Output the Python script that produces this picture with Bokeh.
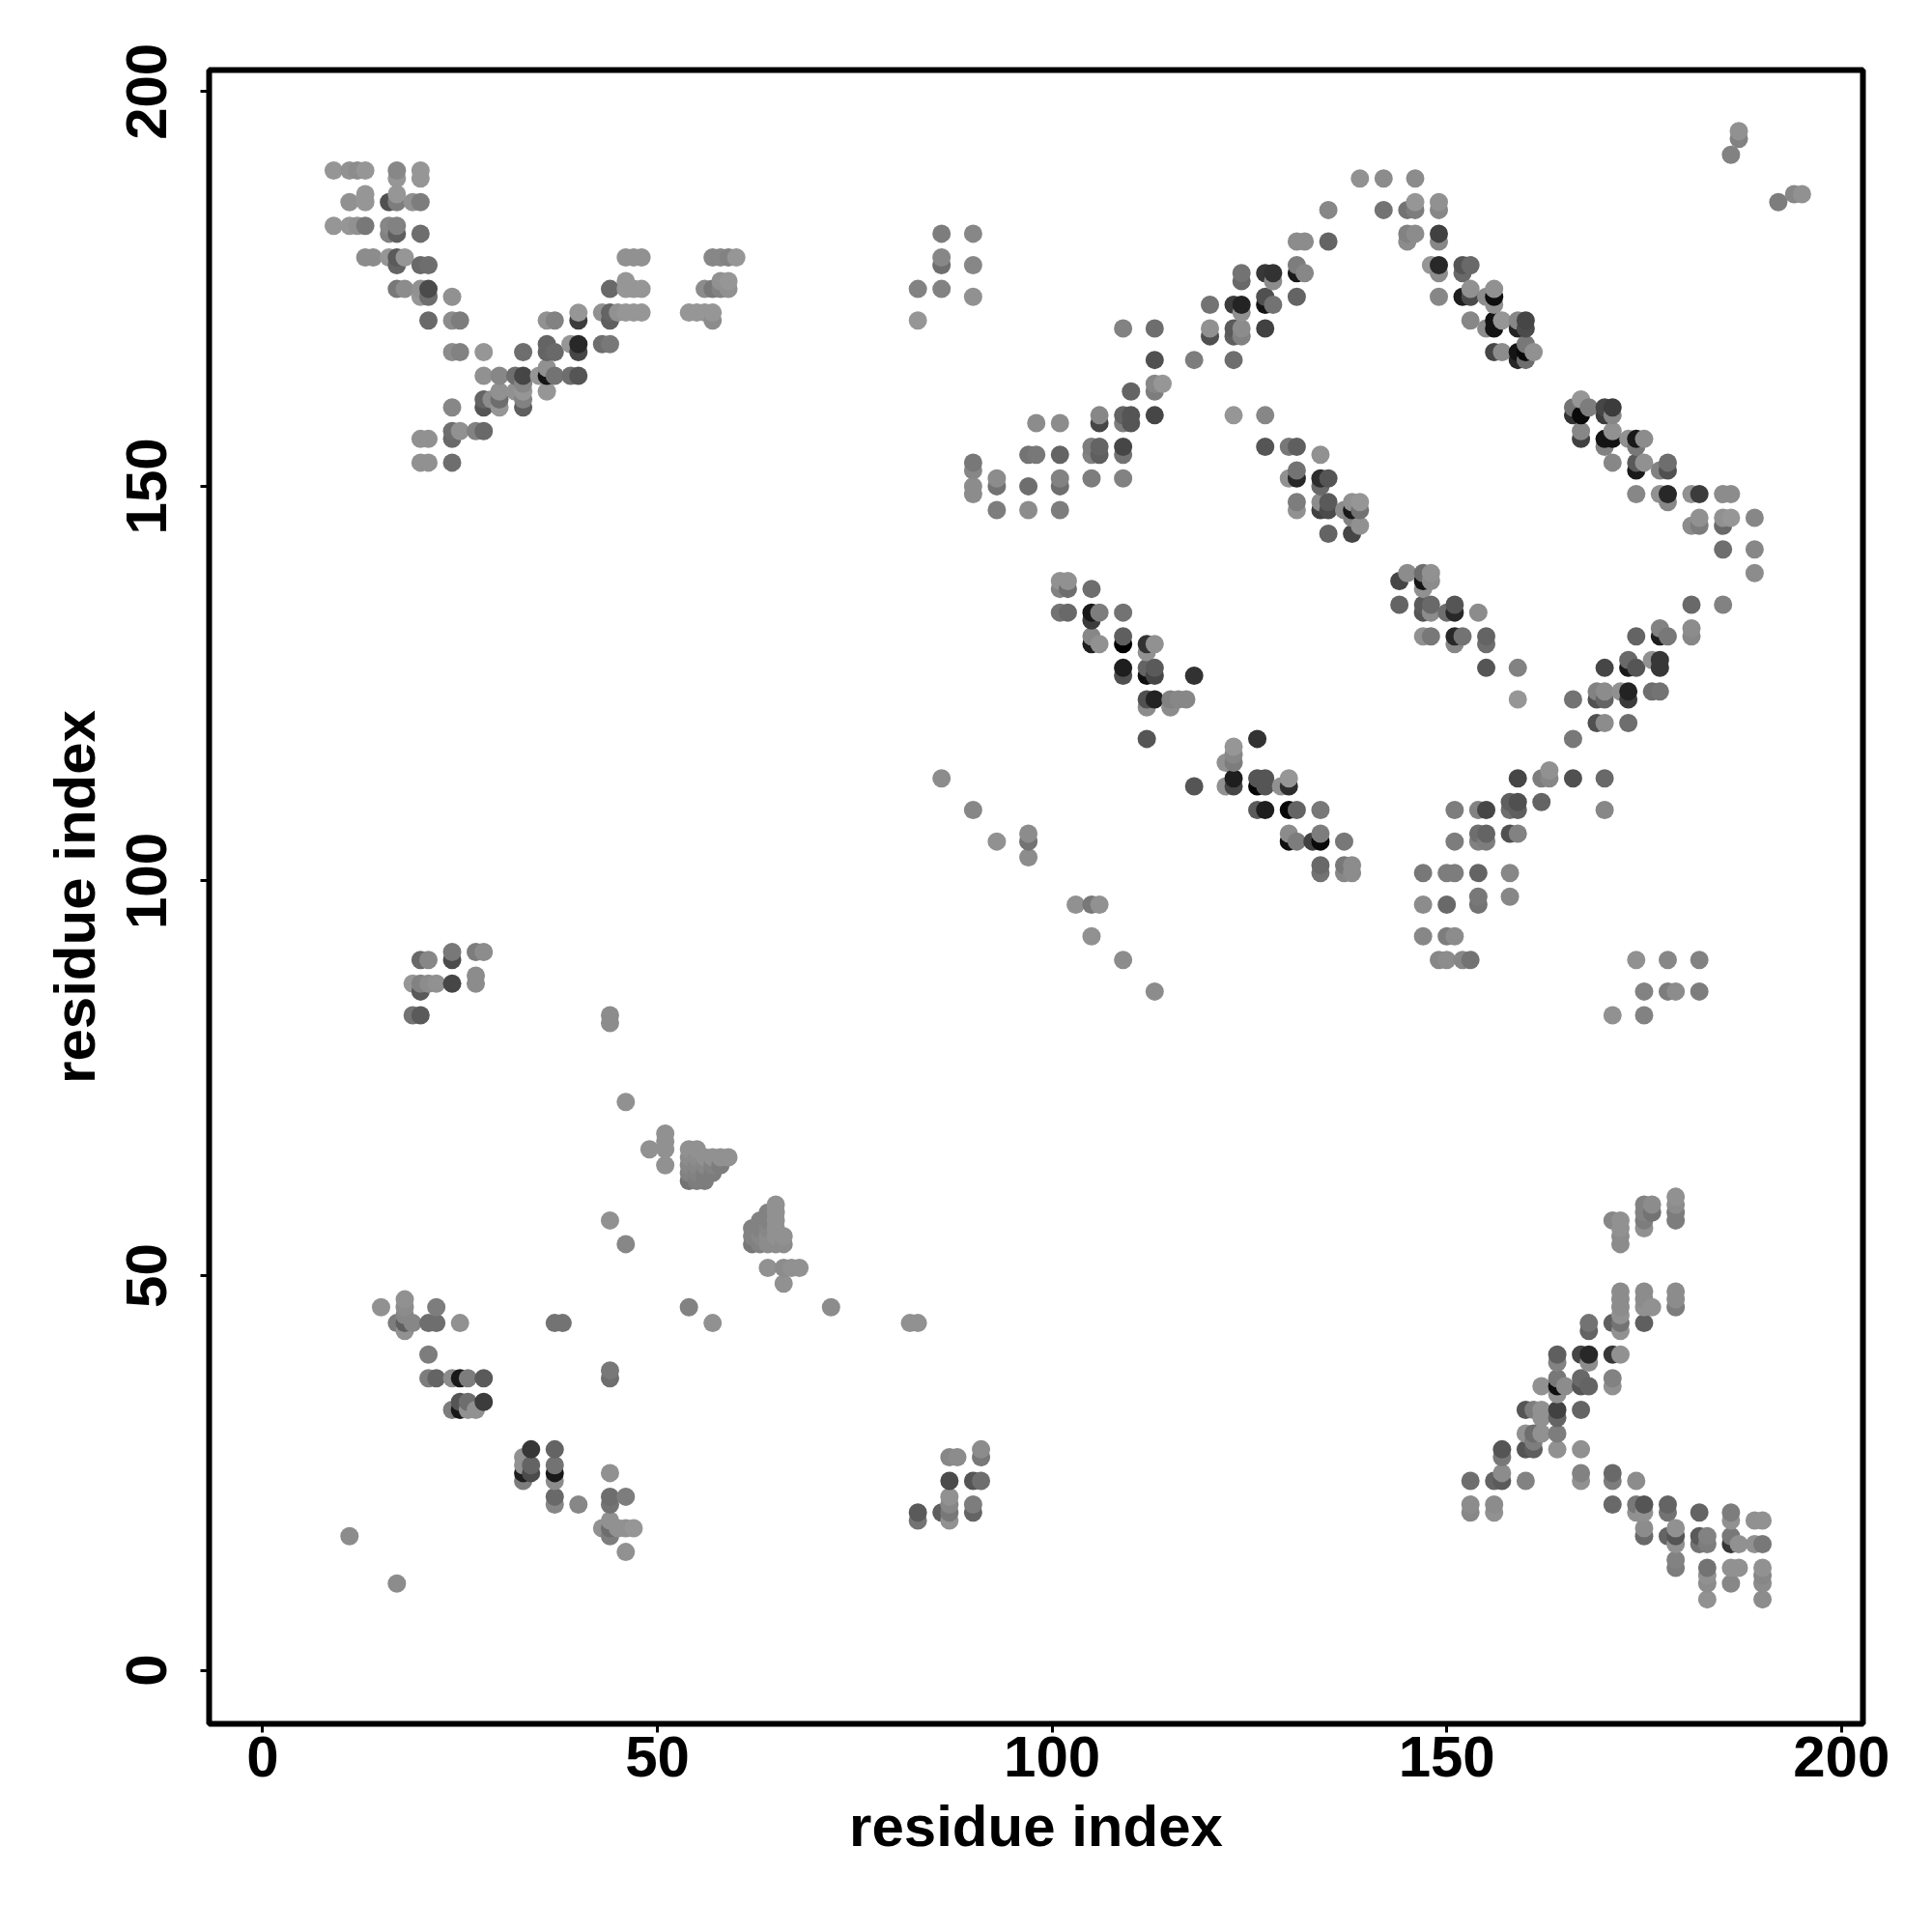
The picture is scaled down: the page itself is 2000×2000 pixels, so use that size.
import numpy as np
from bokeh.embed import file_html
from bokeh.models import ColumnDataSource, FixedTicker, Range1d
from bokeh.plotting import figure
from bokeh.resources import INLINE

# each point: (residue x, residue y, grey level 0-255)
upper_left = [
    (9,190,150),(11,190,145),(12,190,140),(13,190,150),(17,190,135),(20,190,150),(17,189,150),(20,189,150),
    (13,187,150),(17,187,150),(16,186,80),(11,186,145),(13,186,150),(17,186,125),(19,186,145),(20,186,125),
    (9,183,150),(11,183,150),(12,183,145),(13,183,120),(16,183,135),(17,183,130),(16,182,130),(17,182,95),(20,182,110),
    (13,179,140),(14,179,140),(16,179,150),(17,179,90),(18,179,150),(17,178,100),(20,178,105),(21,178,110),
    (17,175,120),(18,175,140),(20,175,145),(21,175,75),(20,174,150),(21,174,110),(24,174,145),
    (21,171,105),(24,171,140),(25,171,125),(24,167,140),(25,167,130),(28,167,150),(33,167,110),
    (28,164,145),(30,164,135),(32,164,110),(33,164,70),(35,164,150),(36,164,20),(37,164,115),(39,164,110),(40,164,85),
    (36,165,145),(36,167,100),(37,167,105),(36,168,100),(39,168,150),(40,168,40),(40,167,70),(43,168,110),(44,168,120),
    (36,171,145),(37,171,130),(40,171,60),(40,172,150),(43,172,145),(44,172,100),(45,172,145),(46,172,150),(47,172,150),(48,172,150),
    (44,171,95),(44,175,105),(46,175,150),(47,175,150),(48,175,150),(46,176,150),(46,179,145),(47,179,145),(48,179,145),
    (57,179,135),(58,179,135),(59,179,130),(60,179,150),(56,175,140),(57,175,120),(58,175,130),(59,175,145),(58,176,145),(59,176,150),
    (54,172,150),(55,172,150),(56,172,150),(57,172,150),(57,171,140),
    (30,162,145),(32,162,145),(33,162,150),(36,162,150),(33,163,135),(28,161,100),(29,161,140),(30,161,110),(33,161,130),
    (28,160,85),(30,160,150),(33,160,95),(24,160,135),(24,157,110),(25,157,145),(27,157,130),(28,157,105),
    (24,156,105),(20,156,145),(21,156,145),(20,153,145),(21,153,145),(24,153,110),
]
upper_mid = [
    (86,182,125),(90,182,135),(86,179,135),(86,178,110),(90,178,135),(83,175,130),(86,175,130),(90,174,145),(83,171,150),
    (109,170,130),(113,170,110),(120,173,115),(123,173,60),(124,173,35),(124,172,145),(124,177,115),(124,176,105),
    (127,177,55),(128,177,50),(128,176,140),(127,174,80),(127,173,20),(128,173,115),(131,178,125),(132,177,135),(131,177,25),
    (131,174,100),(131,181,140),(132,181,140),(135,181,100),(135,185,135),(120,170,145),(120,169,80),(123,170,90),(123,169,95),
    (124,170,140),(124,169,130),(127,170,65),(113,166,80),(118,166,125),(123,166,110),(113,163,135),(113,162,125),(114,163,150),
    (110,162,100),(106,159,135),(106,158,70),(109,159,100),(109,158,125),(110,159,85),(110,158,85),(113,159,70),(98,158,140),(101,158,140),
    (97,154,115),(98,154,120),(101,154,100),(105,155,125),(105,154,130),(106,155,100),(106,154,95),(109,155,70),(109,154,115),
    (90,153,120),(90,152,135),(90,150,140),(90,149,140),(93,151,140),(93,150,115),(97,150,110),(101,151,130),(101,150,110),
    (105,151,125),(109,151,130),(93,147,125),(97,147,140),(101,147,125),
]
inner_upper = [
    (123,159,150),(127,159,135),(127,155,85),(130,155,120),(131,155,95),(134,154,145),(130,151,145),(131,152,115),(131,151,40),
    (134,151,45),(135,151,85),(134,150,105),(131,148,125),(131,147,145),(134,148,140),(135,148,90),(134,147,65),(135,147,75),
    (137,147,140),(138,148,145),(138,147,25),(138,146,130),(139,148,150),(139,147,115),(139,145,145),(135,144,100),(138,144,70),
]
upper_right = [
    (139,189,145),(142,189,140),(146,189,140),(142,185,115),(145,185,115),(146,186,150),(146,185,125),(149,186,145),(149,185,135),
    (145,182,130),(146,182,140),(145,181,140),(149,182,65),(149,181,135),(148,178,150),(149,178,40),(149,177,140),
    (152,178,85),(153,178,105),(152,177,105),(149,174,135),(152,174,30),(153,175,145),(153,174,75),(155,174,140),(156,175,145),
    (156,174,15),(156,173,145),(153,171,135),(155,170,140),(156,171,20),(156,170,20),(157,171,150),(159,171,135),(160,171,70),
    (159,170,35),(160,170,75),(156,167,70),(157,167,140),(159,167,20),(159,166,40),(160,168,120),(160,166,110),(160,167,10),(161,167,145),
    (187,195,145),(187,194,130),(186,192,130),(192,186,125),(194,187,135),(195,187,145),
    (166,160,115),(167,161,150),(166,159,50),(167,159,10),(168,160,125),(170,160,70),(171,160,60),(170,159,60),(171,159,135),
    (167,157,135),(167,156,65),(170,156,20),(171,157,145),(171,156,20),(170,155,130),(173,156,145),(174,156,25),(175,156,140),(174,155,120),
    (171,153,135),(174,153,90),(174,152,25),(175,153,145),(177,152,130),(178,153,110),(178,152,80),(174,149,135),(177,149,145),(178,149,40),(178,148,135),
    (181,149,145),(182,149,60),(185,149,140),(186,149,140),(181,145,140),(182,146,145),(182,145,125),(185,146,145),(185,145,105),(186,146,150),
    (189,146,135),(185,142,110),(189,142,135),(189,139,140),
]
middle_right = [
    (144,138,70),(145,139,140),(147,139,110),(148,139,145),(147,138,20),(148,138,140),(147,137,145),
    (144,135,100),(147,135,90),(148,135,105),(147,134,85),(148,134,140),(150,134,110),(151,135,85),(151,134,40),(154,134,140),
    (147,131,145),(148,131,120),(151,131,40),(152,131,115),(151,130,135),(155,131,100),(155,130,110),(155,127,85),(159,127,130),(159,123,150),
    (166,123,115),(166,118,120),(159,113,70),(162,113,125),(163,114,145),(163,113,135),(166,113,80),(170,113,105),(170,109,135),(162,110,100),
    (158,110,95),(159,110,80),(158,109,110),(159,109,95),(151,109,125),(154,109,130),(155,109,70),(151,105,125),(154,106,110),(155,106,100),
    (154,105,130),(155,105,125),(158,106,80),(159,106,130),(147,101,120),(150,101,125),(151,101,125),(154,101,100),(158,101,135),
    (147,97,140),(150,97,105),(154,98,120),(154,97,115),(158,98,135),(147,93,135),(150,93,125),(151,93,140),
    (149,90,135),(150,90,140),(152,90,135),(153,90,115),(174,90,145),(178,90,135),(182,90,130),(175,86,130),(178,86,125),(179,86,140),(182,86,125),
    (171,83,145),(175,83,130),(181,135,105),(185,135,130),(181,132,140),(181,131,135),(174,131,100),(177,132,130),(177,131,30),(178,131,120),
    (173,128,105),(176,128,145),(177,128,55),(177,127,55),(170,127,70),(173,127,25),(174,127,85),(169,124,130),(170,124,140),(169,123,80),(170,123,100),
    (172,124,145),(173,124,35),(173,123,60),(176,124,110),(177,124,115),(169,120,80),(170,120,140),(173,120,110),
]
centre = [
    (101,138,145),(102,138,145),(101,137,130),(102,137,110),(105,137,110),(101,134,115),(102,134,105),(105,134,25),(106,134,125),(105,133,60),(109,134,115),
    (105,131,135),(106,130,145),(105,130,30),(109,131,95),(109,130,0),(112,130,50),(113,130,145),(112,129,145),(109,127,30),(109,126,80),
    (112,127,100),(113,127,90),(112,126,15),(113,126,70),(118,126,50),(112,123,80),(113,123,35),(112,122,140),(115,123,130),(116,123,135),(117,123,135),(115,122,140),
    (112,118,85),(126,118,50),(123,117,150),(123,116,135),(123,115,125),(122,115,145),(118,112,85),(122,112,145),(123,113,30),(123,112,70),
    (126,113,85),(127,113,85),(126,112,5),(127,112,85),(129,112,145),(130,113,150),(130,112,45),(126,109,90),(127,109,30),(130,109,5),(131,109,100),(134,109,120),
    (130,106,140),(130,105,15),(131,105,125),(133,105,65),(134,105,10),(134,106,125),(137,105,120),(134,102,105),(134,101,115),
    (137,102,120),(138,102,140),(137,101,135),(138,101,140),(86,113,140),(90,109,135),(93,105,145),(97,106,140),(97,105,115),(97,103,140),
    (103,97,145),(105,97,120),(106,97,145),(105,93,145),(109,90,140),(113,86,140),
]
left_mid = [
    (20,90,105),(21,90,135),(24,91,120),(24,90,75),(27,91,125),(28,91,140),(27,88,140),(27,87,140),(19,87,150),(20,87,130),(21,87,140),(22,87,145),(24,87,70),
    (20,86,90),(19,83,115),(20,83,90),(44,83,140),(44,82,140),(46,72,145),(51,68,145),(51,67,145),(51,66,145),(49,66,145),(51,64,145),
    (54,66,145),(55,66,145),(54,65,140),(55,65,140),(56,65,145),(57,65,145),(58,65,145),(59,65,145),(54,64,135),(55,64,135),(56,64,135),(57,64,130),(58,64,125),
    (54,63,130),(55,63,130),(56,63,125),(57,63,125),(54,62,115),(55,62,125),(56,62,125),
    (65,59,145),(64,58,130),(65,58,145),(63,57,130),(64,57,130),(65,57,145),(62,56,130),(63,56,130),(64,56,135),(65,56,145),
    (62,55,130),(63,55,135),(64,55,140),(65,55,145),(66,55,145),(62,54,120),(63,54,130),(64,54,140),(65,54,140),(66,54,140),
    (64,51,145),(66,51,140),(67,51,145),(68,51,145),(66,49,145),(44,57,145),(46,54,135),(54,46,130),(57,44,145),(72,46,140),(82,44,145),(83,44,145),
    (15,46,145),(18,47,145),(18,46,140),(18,45,135),(17,44,125),(18,44,95),(19,44,135),(18,43,145),(21,44,110),(22,44,110),(22,46,125),(25,44,145),(37,44,115),(38,44,115),
    (21,40,125),(21,37,125),(22,37,100),(24,37,140),(25,37,25),(26,37,125),(28,37,90),(44,38,120),(44,37,110),
]
lower_left = [
    (24,33,125),(25,34,85),(25,33,25),(26,34,110),(26,33,145),(27,33,145),(28,34,60),(34,28,55),(37,28,100),(33,27,145),(33,26,145),(33,25,30),(33,24,125),
    (34,26,100),(34,25,75),(37,26,115),(37,25,25),(37,24,140),(37,22,105),(37,21,135),(40,21,135),(44,25,145),(44,22,110),(44,21,115),(46,22,125),
    (44,19,145),(43,18,145),(44,18,110),(45,18,145),(46,18,145),(47,18,150),(44,17,125),(46,15,145),(11,17,140),(17,11,140),
    (87,27,135),(88,27,140),(87,24,75),(90,24,85),(91,24,110),(91,28,140),(91,27,120),(83,20,90),(83,19,115),(86,20,95),
    (87,22,145),(87,21,135),(87,20,120),(87,19,145),(90,21,125),(90,20,100),
]
lower_right = [
    (179,60,145),(179,59,140),(179,58,125),(179,57,125),(175,59,130),(176,59,140),(176,58,115),(175,58,130),(175,57,125),(175,56,145),
    (171,57,135),(172,57,145),(172,56,145),(172,55,140),(172,54,140),(172,48,140),(172,47,140),(172,46,140),(172,45,145),(172,44,115),(172,43,145),(171,44,95),
    (175,48,140),(175,47,140),(175,46,145),(176,46,145),(175,44,95),(179,48,140),(179,47,140),(179,46,125),(168,44,115),(168,43,100),
    (164,40,95),(164,39,130),(167,40,70),(168,40,40),(168,39,140),(171,40,55),(172,40,145),(171,37,130),(171,36,145),
    (162,36,145),(164,37,120),(164,36,15),(165,36,140),(164,35,145),(167,37,105),(167,36,85),(168,36,100),
    (160,33,85),(161,33,125),(162,33,145),(162,32,145),(164,33,65),(164,32,100),(167,33,100),(160,30,145),(161,30,110),(162,30,145),(164,30,125),
    (160,28,85),(161,28,95),(161,29,125),(164,28,145),(167,28,145),(157,28,85),(157,27,120),(157,25,140),(156,24,100),(157,24,90),(153,24,110),(160,24,130),
    (153,21,140),(153,20,135),(156,21,140),(156,20,145),(167,25,130),(167,24,145),(171,25,105),(171,24,125),(174,24,140),(171,21,105),(174,21,120),(175,21,85),
    (175,20,145),(174,20,145),(178,21,100),(178,20,115),(182,20,100),(186,20,125),(186,19,145),(189,19,145),(190,19,145),(175,18,140),(175,17,105),
    (178,17,100),(179,18,145),(179,17,85),(179,16,145),(179,14,130),(179,13,125),(182,17,90),(183,17,130),(182,16,115),(183,16,125),
    (186,17,120),(186,16,55),(187,16,145),(189,16,145),(190,16,120),(183,13,115),(183,12,145),(183,11,140),(183,9,145),(186,13,145),(187,13,145),(186,11,135),
    (190,13,145),(190,12,135),(190,11,140),(190,9,140),
]
axis_ticks = [0, 50, 100, 150, 200]
axis_title = "residue index"

pts = np.array(upper_left + upper_mid + inner_upper + upper_right + middle_right + centre + left_mid + lower_left + lower_right)
order = np.lexsort((pts[:, 1], pts[:, 0]))
pts = pts[order]
colors = ["#%02x%02x%02x" % (g, g, g) for g in pts[:, 2]]
src = ColumnDataSource(dict(x=pts[:, 0], y=pts[:, 1], c=colors))

p = figure(width=1990, height=1990, frame_width=1712, frame_height=1712,
           output_backend="svg", toolbar_location=None,
           x_range=Range1d(-6.78, 202.72), y_range=Range1d(-6.77, 202.73),
           min_border_left=216, min_border_right=62, min_border_top=72, min_border_bottom=206)
p.scatter("x", "y", source=src, size=19, fill_color="c", line_color=None)

p.grid.visible = False
p.outline_line_color = "black"
p.outline_line_width = 6
p.background_fill_color = "white"
for ax in (p.xaxis[0], p.yaxis[0]):
    ax.ticker = FixedTicker(ticks=axis_ticks)
    ax.axis_label = axis_title
    ax.axis_line_color = None
    ax.minor_tick_line_color = None
    ax.major_tick_in = 0
    ax.major_tick_out = 9
    ax.major_tick_line_width = 3
    ax.major_tick_line_color = "black"
    ax.major_label_text_font = "Liberation Sans"
    ax.major_label_text_font_style = "bold"
    ax.major_label_text_font_size = "60px"
    ax.major_label_text_color = "black"
    ax.axis_label_text_font = "Liberation Sans"
    ax.axis_label_text_font_style = "bold"
    ax.axis_label_text_font_size = "60px"
    ax.axis_label_text_color = "black"
p.yaxis[0].major_label_orientation = "vertical"
p.xaxis[0].major_label_standoff = 4
p.yaxis[0].major_label_standoff = 35
p.xaxis[0].axis_label_standoff = 15
p.yaxis[0].axis_label_standoff = 18

open("out.html", "w").write(file_html(p, INLINE))
